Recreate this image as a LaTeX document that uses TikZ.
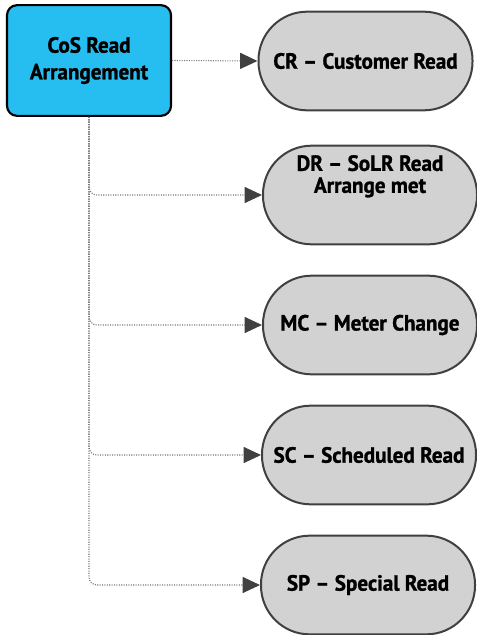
\documentclass[tikz,border=0pt]{standalone}
\usepackage{fontspec}
\setmainfont{PT Sans}[BoldFeatures={FakeBold=1.2,FakeStretch=0.96}]
\usetikzlibrary{arrows.meta}
\definecolor{boxblue}{RGB}{38,190,240}
\definecolor{pillgray}{RGB}{210,210,210}
\definecolor{pilledge}{RGB}{64,64,64}
\definecolor{conngray}{RGB}{120,120,120}
\tikzset{
  mainbox/.style={draw=black, line width=1.6pt, fill=boxblue, rounded corners=7.5pt,
    minimum width=123pt, minimum height=83pt, align=center, inner sep=2pt,
    font=\fontsize{16.5}{20}\selectfont\bfseries},
  pill/.style={draw=pilledge, line width=1.5pt, fill=pillgray, rounded corners=36.5pt,
    minimum width=160.5pt, minimum height=74pt, align=center, inner sep=2pt,
    font=\fontsize{16.5}{16.5}\selectfont\bfseries},
  conn/.style={draw=conngray, line width=0.8pt, densely dotted, rounded corners=6pt,
    -{Triangle[length=13pt,width=12pt,fill=pilledge,color=pilledge]}}
}
\begin{document}
\begin{tikzpicture}[x=0.75pt,y=-0.75pt]
\useasboundingbox (0,0) rectangle (477,635);
\node[mainbox] (cos) at (89,60.5) {CoS Read\\Arrangement};
\node[pill] (cr) at (365.5,61) {CR – Customer Read};
\node[pill] (dr) at (370,195) {DR – SoLR Read\\Arrange met\\[15pt]\mbox{}};
\node[pill] (mc) at (370,325) {MC – Meter Change};
\node[pill] (sc) at (369,455) {SC – Scheduled Read};
\node[pill] (sp) at (368,585) {SP – Special Read};
\draw[conn] (cos.east) -- (cr.west);
\draw[conn] (cos.south) |- (dr.west);
\draw[conn] (cos.south) |- (mc.west);
\draw[conn] (cos.south) |- (sc.west);
\draw[conn] (cos.south) |- (sp.west);
\end{tikzpicture}
\end{document}
